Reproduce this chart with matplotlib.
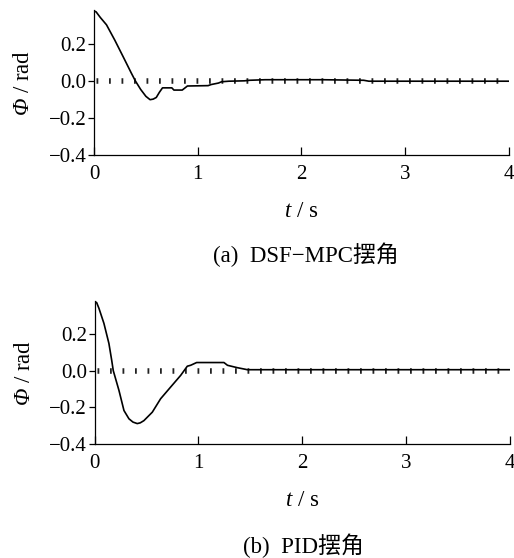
import matplotlib
matplotlib.use("Agg")
import matplotlib.pyplot as plt

plt.rcParams['font.family'] = ['Liberation Serif', 'Noto Sans CJK SC']
# 公式里只放斜体变量 (t, Φ)，大写希腊字母走 rm 字体，所以 rm 也设为斜体
plt.rcParams['mathtext.fontset'] = 'custom'
plt.rcParams['mathtext.rm'] = 'Liberation Serif:italic'
plt.rcParams['mathtext.it'] = 'Liberation Serif:italic'
plt.rcParams['lines.scale_dashes'] = False

# 摆角响应 (rad) vs 时间 (s)
mpc_t = [0, 0.02, 0.06, 0.12, 0.20, 0.28, 0.36, 0.40, 0.45, 0.50, 0.54, 0.57,
         0.60, 0.63, 0.66, 0.75, 0.77, 0.85, 0.88, 0.90, 1.10, 1.13, 1.20,
         1.23, 1.30, 1.45, 1.50, 1.65, 2.20, 2.60, 2.65, 4.0]
mpc_v = [0.38, 0.375, 0.345, 0.305, 0.222, 0.133, 0.043, 0.0, -0.045, -0.082,
         -0.10, -0.097, -0.088, -0.06, -0.036, -0.036, -0.048, -0.048, -0.035,
         -0.026, -0.024, -0.018, -0.01, -0.003, 0.0, 0.002, 0.005, 0.008,
         0.008, 0.005, 0.0, 0.0]

pid_t = [0, 0.02, 0.042, 0.09, 0.138, 0.165, 0.18, 0.235, 0.283, 0.331, 0.37,
         0.411, 0.44, 0.475, 0.556, 0.636, 0.733, 0.829, 0.893, 0.925, 0.983,
         1.246, 1.28, 1.375, 1.455, 1.47, 4.0]
pid_v = [0.375, 0.37, 0.339, 0.257, 0.148, 0.056, 0.0, -0.108, -0.217, -0.262,
         -0.28, -0.288, -0.284, -0.272, -0.226, -0.153, -0.089, -0.026, 0.024,
         0.029, 0.044, 0.044, 0.029, 0.016, 0.007, 0.005, 0.005]

xticks = [0, 1, 2, 3, 4]
yticks = [-0.4, -0.2, 0.0, 0.2]
captions = ['(a)  DSF\u2212MPC摆角', '(b)  PID摆角']


def draw_panel(ax, t, v, ytop):
    # 零位参考线 (点线)
    ax.axhline(0, color='#222222', lw=4.0, linestyle=(7.2, (1.3, 7.7)),
               dash_capstyle='butt', zorder=1)
    ax.plot(t, v, color='black', lw=1.2, zorder=2)
    ax.set_xlim(0, 4)
    ax.set_ylim(-0.4, ytop)
    ax.set_xticks(xticks)
    ax.set_yticks(yticks)
    ax.set_yticklabels(['\u22120.4', '\u22120.2', '0.0', '0.2'])
    ax.spines['top'].set_visible(False)
    ax.spines['right'].set_visible(False)
    for s in ('left', 'bottom'):
        ax.spines[s].set_linewidth(0.9)
    ax.tick_params(axis='x', direction='in', length=6, width=0.9,
                   labelsize=15, pad=7)
    ax.tick_params(axis='y', direction='out', length=4.3, width=0.9,
                   labelsize=15, pad=1)
    ax.set_xlabel('$t$ / s', fontsize=16.5, labelpad=12)
    ax.set_ylabel('$\\Phi$ / rad', fontsize=16.5, labelpad=10.5)


fig = plt.figure(figsize=(5.14, 5.58), dpi=100)

ax1 = fig.add_axes([0.183, 0.722, 0.807, 0.26])
draw_panel(ax1, mpc_t, mpc_v, 0.385)

ax2 = fig.add_axes([0.184, 0.204, 0.808, 0.257])
draw_panel(ax2, pid_t, pid_v, 0.38)

fig.text(306 / 514, 1 - 255 / 558, captions[0], ha='center', va='center',
         fontsize=16.5)
fig.text(303 / 514, 1 - 546 / 558, captions[1], ha='center', va='center',
         fontsize=16.5)

fig.savefig('out.png', dpi=100)
